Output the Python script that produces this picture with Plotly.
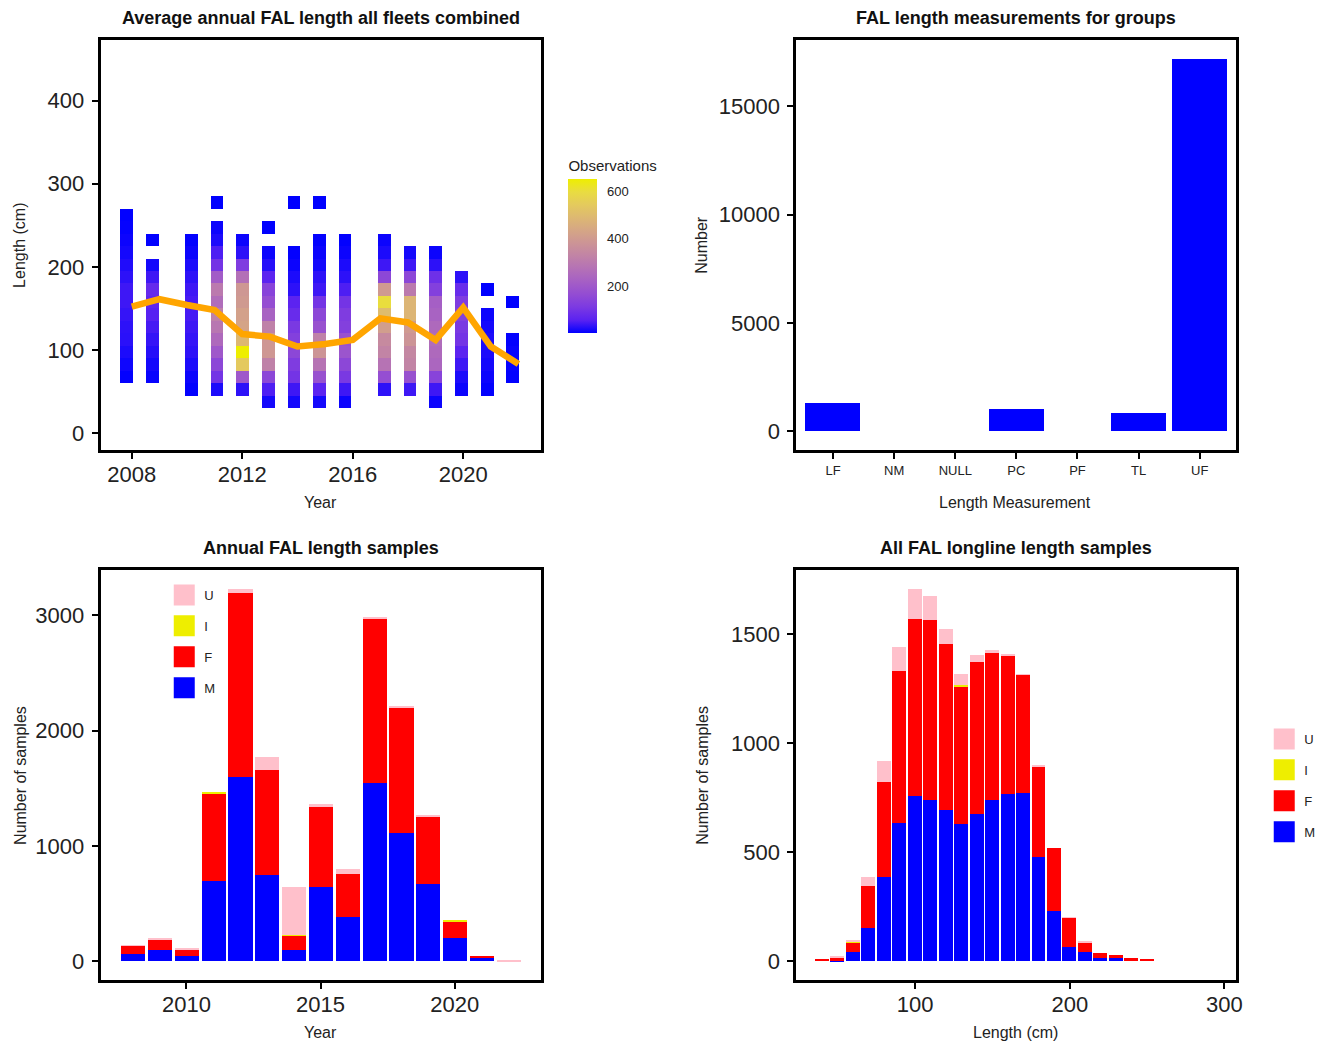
import plotly.graph_objects as go

# ---------------- data ----------------
# Mean annual length, all fleets
mean_years = list(range(2008, 2023))
mean_length = [152, 161, 154, 148, 119, 116, 104, 107, 112, 138, 133, 112, 151, 104, 83]

# Binned observations: year-bin centres, 15 cm length classes
bin_width_cm = 15
col_x = [2007.8, 2008.74, 2010.14, 2011.06, 2012.0, 2012.94, 2013.85, 2014.78,
         2015.71, 2017.13, 2018.06, 2018.98, 2019.92, 2020.86, 2021.77]
col_start = [60, 60, 45, 45, 45, 30, 30, 30, 30, 45, 45, 30, 45, 45, 60]
col_counts = [
    [5, 12, 20, 28, 30, 35, 40, 40, 30, 22, 15, 10, 6, 4],
    [8, 15, 25, 35, 45, 55, 65, 75, 40, 15],
    [5, 10, 20, 30, 35, 40, 45, 45, 40, 30, 20, 10, 5],
    [20, 100, 150, 200, 250, 290, 320, 260, 300, 210, 100, 50, 20, 10],
    [30, 200, 540, 651, 490, 430, 420, 400, 390, 270, 120, 30, 10],
    [15, 50, 150, 320, 390, 390, 320, 230, 170, 140, 60, 25, 10],
    [15, 40, 100, 120, 150, 130, 110, 80, 60, 30, 20, 10, 5],
    [15, 60, 180, 280, 380, 320, 180, 150, 100, 40, 30, 15, 10, 5],
    [10, 40, 110, 150, 190, 180, 130, 120, 100, 50, 30, 20, 10, 5],
    [30, 170, 280, 330, 350, 410, 500, 600, 400, 150, 40, 20, 10],
    [40, 180, 330, 340, 380, 400, 480, 480, 300, 150, 40, 15],
    [10, 40, 140, 240, 250, 260, 250, 230, 220, 130, 90, 30, 10],
    [10, 20, 40, 60, 100, 110, 130, 120, 80, 30],
    [5, 10, 15, 20, 20, 15, 10],
    [4, 6, 8, 5],
]
# isolated length classes above the main columns
extra_x = [2008.74, 2011.06, 2012.94, 2013.85, 2014.78, 2020.86, 2021.77]
extra_len = [225, 270, 240, 270, 270, 165, 150]
extra_n = [4, 3, 3, 3, 3, 3, 3]

# Length measurement codes
meas_codes = ["LF", "NM", "NULL", "PC", "PF", "TL", "UF"]
meas_number = [1330, 0, 0, 1050, 0, 860, 17200]

# Annual samples by sex
sample_years = list(range(2008, 2023))
yr_M = [61, 101, 49, 697, 1594, 749, 101, 645, 385, 1542, 1111, 671, 202, 32, 0]
yr_F = [78, 90, 55, 753, 1597, 909, 119, 689, 376, 1430, 1082, 582, 142, 17, 0]
yr_I = [0, 0, 0, 14, 0, 0, 11, 0, 0, 0, 0, 0, 15, 0, 0]
yr_U = [2, 14, 9, 0, 38, 116, 414, 26, 38, 11, 23, 11, 0, 0, 12]

# Longline length-frequency (10 cm classes) by sex
len_mid = list(range(40, 260, 10))
len_M = [0, 2, 44, 154, 389, 636, 760, 740, 693, 630, 677, 740, 768, 774, 478, 231, 64, 44, 16, 16, 0, 0]
len_F = [10, 14, 41, 193, 434, 696, 813, 825, 763, 633, 697, 675, 635, 540, 414, 290, 135, 43, 22, 15, 16, 10]
len_I = [0, 0, 8, 0, 0, 0, 0, 0, 0, 6, 0, 0, 0, 0, 0, 0, 0, 0, 0, 0, 0, 0]
len_U = [0, 6, 4, 42, 95, 109, 137, 111, 68, 48, 32, 12, 3, 3, 6, 0, 3, 4, 0, 0, 0, 0]

sex_names = ["M", "F", "I", "U"]
sex_colors = {"M": "#0000FF", "F": "#FF0000", "I": "#EEEE00", "U": "#FFC0CB"}


# ---------------- colour ramp (blue -> yellow through CIELAB) ----------------
def _hex_to_rgb(h):
    h = h.lstrip("#")
    return [int(h[i:i + 2], 16) / 255 for i in (0, 2, 4)]


def _to_lab(rgb):
    def lin(c):
        return c / 12.92 if c <= 0.04045 else ((c + 0.055) / 1.055) ** 2.4
    r, g, b = [lin(c) for c in rgb]
    x = (0.4124 * r + 0.3576 * g + 0.1805 * b) / 0.95047
    y = (0.2126 * r + 0.7152 * g + 0.0722 * b)
    z = (0.0193 * r + 0.1192 * g + 0.9505 * b) / 1.08883

    def f(t):
        return t ** (1 / 3) if t > 0.008856 else 7.787 * t + 16 / 116
    fx, fy, fz = f(x), f(y), f(z)
    return [116 * fy - 16, 500 * (fx - fy), 200 * (fy - fz)]


def _from_lab(lab):
    L, a, b = lab
    fy = (L + 16) / 116
    fx = fy + a / 500
    fz = fy - b / 200

    def finv(t):
        return t ** 3 if t ** 3 > 0.008856 else (t - 16 / 116) / 7.787
    x, y, z = finv(fx) * 0.95047, finv(fy), finv(fz) * 1.08883
    r = 3.2406 * x - 1.5372 * y - 0.4986 * z
    g = -0.9689 * x + 1.8758 * y + 0.0415 * z
    bb = 0.0557 * x - 0.2040 * y + 1.0570 * z

    def gam(c):
        c = max(0.0, min(1.0, c))
        return 12.92 * c if c <= 0.0031308 else 1.055 * c ** (1 / 2.4) - 0.055
    return "rgb({:.0f},{:.0f},{:.0f})".format(*[255 * gam(c) for c in (r, g, bb)])


lab_lo, lab_hi = _to_lab(_hex_to_rgb("#0000FF")), _to_lab(_hex_to_rgb("#EEEE00"))
ramp = []
for k in range(13):
    t = k / 12
    ramp.append([t, _from_lab([lo + t * (hi - lo) for lo, hi in zip(lab_lo, lab_hi)])])

# ---------------- figure ----------------
fig = go.Figure()

# tiles of the binned observations
tile_x, tile_base, tile_n = [], [], []
for xc, start, counts in zip(col_x, col_start, col_counts):
    for i, n in enumerate(counts):
        tile_x.append(xc)
        tile_base.append(start + i * bin_width_cm)
        tile_n.append(n)
for xc, lb, n in zip(extra_x, extra_len, extra_n):
    tile_x.append(xc)
    tile_base.append(lb)
    tile_n.append(n)

fig.add_trace(go.Bar(
    x=tile_x, y=[bin_width_cm] * len(tile_x), base=tile_base, width=0.45,
    marker=dict(color=tile_n, coloraxis="coloraxis", line=dict(width=0)),
    showlegend=False, xaxis="x", yaxis="y",
))
fig.add_trace(go.Scatter(
    x=mean_years, y=mean_length, mode="lines",
    line=dict(color="#FFA500", width=6.5), showlegend=False, xaxis="x", yaxis="y",
))

# measurement-code counts
fig.add_trace(go.Bar(
    x=meas_codes, y=meas_number, width=0.9, marker=dict(color="#0000FF", line=dict(width=0)),
    showlegend=False, xaxis="x2", yaxis="y2",
))

# stacked sex composition: annual and by length class
yr_vals = {"M": yr_M, "F": yr_F, "I": yr_I, "U": yr_U}
len_vals = {"M": len_M, "F": len_F, "I": len_I, "U": len_U}
for s in sex_names:
    fig.add_trace(go.Bar(
        x=sample_years, y=yr_vals[s], width=0.9,
        marker=dict(color=sex_colors[s], line=dict(width=0)),
        showlegend=False, xaxis="x3", yaxis="y3",
    ))
    fig.add_trace(go.Bar(
        x=len_mid, y=len_vals[s], width=9,
        marker=dict(color=sex_colors[s], line=dict(width=0)),
        showlegend=False, xaxis="x4", yaxis="y4",
    ))

# legend keys (U on top, M at the bottom)
for leg, ax in (("legend", ("x3", "y3")), ("legend2", ("x4", "y4"))):
    for s in ["U", "I", "F", "M"]:
        fig.add_trace(go.Scatter(
            x=[None], y=[None], mode="markers", name=s, legend=leg, legendgroup=leg + s,
            marker=dict(symbol="square", size=16, color=sex_colors[s],
                        line=dict(color=sex_colors[s], width=5)),
            xaxis=ax[0], yaxis=ax[1], hoverinfo="skip",
        ))

W, H = 1322, 1044
TICKFONT = dict(family="Liberation Sans, Arial, sans-serif", size=22, color="#222222")


def px_x(a, b):
    return [a / W, b / W]


def px_y(top, bottom):
    return [1 - bottom / H, 1 - top / H]


def frame_axis(**kw):
    base = dict(showline=True, linecolor="black", linewidth=3, mirror=True,
                ticks="outside", ticklen=6, tickwidth=1.5, tickcolor="black",
                showgrid=False, zeroline=False, tickfont=TICKFONT, ticklabelstandoff=3)
    base.update(kw)
    return base


left_dom, right_dom = px_x(101, 543), px_x(800, 1242)
top_dom, bot_dom = px_y(40, 450), px_y(570, 980)

fig.update_layout(
    width=W, height=H, margin=dict(l=0, r=0, t=0, b=0),
    paper_bgcolor="white", plot_bgcolor="white", barmode="stack", bargap=0,
    font=dict(family="Liberation Sans, Arial, sans-serif", color="#222222"),
    xaxis=frame_axis(domain=left_dom, range=[2006.87, 2022.8], tickvals=[2008, 2012, 2016, 2020],
                     anchor="y", ticklabelstandoff=-3),
    yaxis=frame_axis(domain=top_dom, range=[-20.5, 473], tickvals=[0, 100, 200, 300, 400], anchor="x"),
    xaxis2=frame_axis(domain=right_dom, type="category", range=[-0.6, 6.6], anchor="y2",
                      ticklabelstandoff=0,
                      tickfont=dict(family="Liberation Sans, Arial, sans-serif", size=13, color="#222222")),
    yaxis2=frame_axis(domain=top_dom, range=[-860, 18060], tickvals=[0, 5000, 10000, 15000],
                      tickformat="d", anchor="x2"),
    xaxis3=frame_axis(domain=left_dom, range=[2006.8, 2023.2], tickvals=[2010, 2015, 2020],
                      anchor="y3", ticklabelstandoff=-3),
    yaxis3=frame_axis(domain=bot_dom, range=[-161.5, 3390.5], tickvals=[0, 1000, 2000, 3000], anchor="x3"),
    xaxis4=frame_axis(domain=right_dom, range=[23.2, 307.7], tickvals=[100, 200, 300],
                      anchor="y4", ticklabelstandoff=-3),
    yaxis4=frame_axis(domain=bot_dom, range=[-85.5, 1795.5], tickvals=[0, 500, 1000, 1500], anchor="x4"),
    coloraxis=dict(
        colorscale=ramp,
        colorbar=dict(
            title=dict(text="Observations", side="top",
                       font=dict(family="Liberation Sans, Arial, sans-serif", size=15, color="#222222")),
            x=571 / W, xanchor="left", y=1 - 333 / H, yanchor="bottom",
            len=176, lenmode="pixels", thickness=29, thicknessmode="pixels",
            xpad=0, ypad=0, outlinewidth=0,
            tickvals=[200, 400, 600], ticks="outside", ticklen=8, tickcolor="white",
            tickfont=dict(family="Liberation Sans, Arial, sans-serif", size=13, color="#222222"),
        ),
    ),
    legend=dict(x=165 / W, xanchor="left", y=1 - 580 / H, yanchor="top",
                bgcolor="rgba(0,0,0,0)", tracegroupgap=11, itemsizing="trace",
                font=dict(family="Liberation Sans, Arial, sans-serif", size=13, color="#222222")),
    legend2=dict(x=1270 / W, xanchor="left", y=1 - 724 / H, yanchor="top",
                 bgcolor="rgba(0,0,0,0)", tracegroupgap=11, itemsizing="trace",
                 font=dict(family="Liberation Sans, Arial, sans-serif", size=13, color="#222222")),
)

TITLE_FONT = dict(family="Liberation Sans Narrow, Arial Narrow, Liberation Sans, sans-serif",
                  size=18, color="#111111")
LABEL_FONT = dict(family="Liberation Sans, Arial, sans-serif", size=16, color="#222222")


def note(text, x, y, font, angle=0):
    fig.add_annotation(text=text, x=x / W, y=1 - y / H, xref="paper", yref="paper",
                       xanchor="center", yanchor="middle", showarrow=False,
                       textangle=angle, font=font)


note("<b>Average annual FAL length all fleets combined</b>", 322, 18, TITLE_FONT)
note("<b>FAL length measurements for groups</b>", 1021, 18, TITLE_FONT)
note("<b>Annual FAL length samples</b>", 322, 548, TITLE_FONT)
note("<b>All FAL longline length samples</b>", 1021, 548, TITLE_FONT)

note("Year", 322, 502, LABEL_FONT)
note("Length Measurement", 1020, 502, LABEL_FONT)
note("Year", 322, 1032, LABEL_FONT)
note("Length (cm)", 1020, 1032, LABEL_FONT)
note("Length (cm)", 20, 245, LABEL_FONT, -90)
note("Number", 705, 245, LABEL_FONT, -90)
note("Number of samples", 20, 775, LABEL_FONT, -90)
note("Number of samples", 705, 775, LABEL_FONT, -90)

fig.write_html("out.html")
